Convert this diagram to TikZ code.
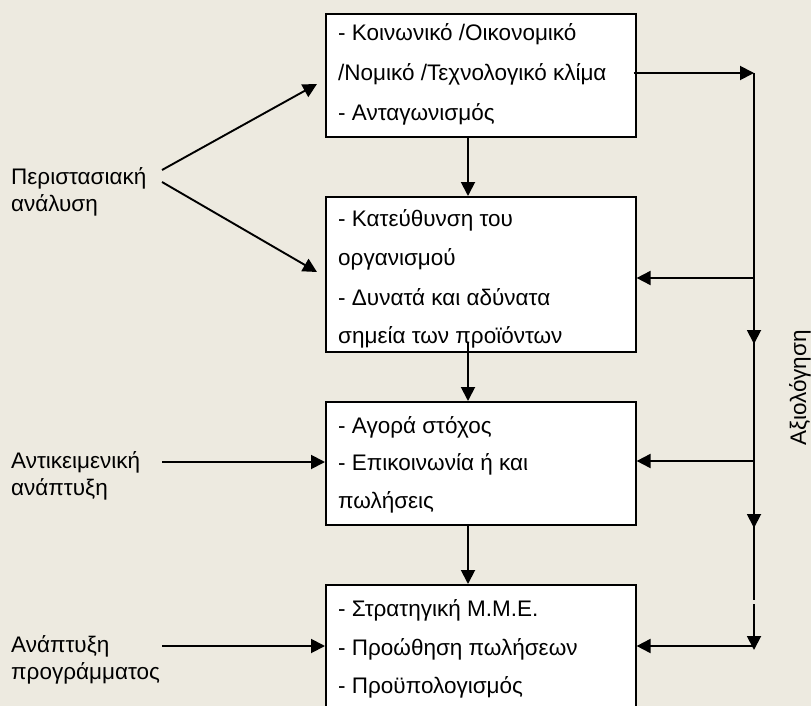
\documentclass[tikz,border=0pt]{standalone}
\usepackage{fontspec}
\setmainfont{Liberation Sans}
\usetikzlibrary{arrows.meta}
\definecolor{bgc}{RGB}{237,234,224}
\tikzset{
  box/.style={draw=black, line width=1.6pt, fill=white, rectangle, anchor=north west, inner sep=0pt, minimum width=310pt},
  ln/.style={anchor=base west, inner sep=0pt, font=\fontsize{22.5}{27}\selectfont},
  side/.style={anchor=west, inner sep=0pt, align=left, font=\fontsize{22.5}{27}\selectfont},
  arr/.style={line width=1.9pt, -{Triangle[length=14pt,width=14pt]}},
  thin/.style={line width=1.2pt}
}
\begin{document}
\begin{tikzpicture}[x=1pt, y=-1pt]
\fill[bgc] (0,0) rectangle (811,706);
\useasboundingbox (0,0) rectangle (811,706);
\clip (0,0) rectangle (811,706);

% boxes
\node[box, minimum height=123pt] (b1) at (325,13) {};
\node[box, minimum height=155pt] (b2) at (325,196) {};
\node[box, minimum height=123pt] (b3) at (325,401) {};
\node[box, minimum height=140pt] (b4) at (325,584) {};

% box texts
\node[ln] (t11) at (338,41) {- Κοινωνικό /Οικονομικό};
\node[ln] (t12) at (338,81) {/Νομικό /Τεχνολογικό κλίμα};
\node[ln] (t13) at (338,121) {- Ανταγωνισμός};
\node[ln] (t21) at (338,226) {- Κατεύθυνση του};
\node[ln] (t22) at (338,265) {οργανισμού};
\node[ln] (t23) at (338,305) {- Δυνατά και αδύνατα};
\node[ln] (t24) at (338,343) {σημεία των προϊόντων};
\node[ln] (t31) at (338,433) {- Αγορά στόχος};
\node[ln] (t32) at (338,470) {- Επικοινωνία ή και};
\node[ln] (t33) at (338,508) {πωλήσεις};
\node[ln] (t41) at (338,616) {- Στρατηγική Μ.Μ.Ε.};
\node[ln] (t42) at (338,655) {- Προώθηση πωλήσεων};
\node[ln] (t43) at (338,693) {- Προϋπολογισμός};

% side labels
\node[side] (l1) at (11,192) {Περιστασιακή\\ανάλυση};
\node[side] (l2) at (11,476) {Αντικειμενική\\ανάπτυξη};
\node[side] (l3) at (11,660) {Ανάπτυξη\\προγράμματος};
\node[rotate=90, inner sep=0pt, font=\fontsize{22.5}{27}\selectfont] (ev) at (800,388) {Αξιολόγηση};

% coordinates
\coordinate (xa) at (468,0);
\coordinate (s1) at (162,170);
\coordinate (s2) at (162,182);
\coordinate (e1) at (317,84);
\coordinate (e2) at (317,272);
\coordinate (s3) at (162,462);
\coordinate (s4) at (162,646);
\coordinate (r1) at (754,73);
\coordinate (r2) at (754,278);
\coordinate (r3) at (754,461);
\coordinate (r4) at (754,646);
\coordinate (gap) at (754,600);
\coordinate (d1a) at (754,298);
\coordinate (d1b) at (754,344);
\coordinate (d2a) at (754,482);
\coordinate (d2b) at (754,528);
\coordinate (d3a) at (754,604);
\coordinate (d3b) at (754,650);
\coordinate (b2top) at (468,342);

% left arrows
\draw[arr] (s1) -- (e1);
\draw[arr] (s2) -- (e2);
\draw[arr] (s3) -- (s3 -| b3.west);
\draw[arr] (s4) -- (s4 -| b4.west);

% vertical arrows between boxes
\draw[arr] (b1.south -| xa) -- (b2.north -| xa);
\draw[arr] (b2top) -- (b3.north -| xa);
\draw[arr] (b3.south -| xa) -- (b4.north -| xa);

% feedback loop
\draw[arr] (r1 -| b1.east) ++(-3,0) -- (r1);
\draw[thin] (r1) -- (gap);
\draw[arr] (r2) -- (r2 -| b2.east);
\draw[arr] (r3) -- (r3 -| b3.east);
\draw[arr] (r4) -- (r4 -| b4.east);
\draw[arr] (d1a) -- (d1b);
\draw[arr] (d2a) -- (d2b);
\draw[arr] (d3a) -- (d3b);
\end{tikzpicture}
\end{document}
